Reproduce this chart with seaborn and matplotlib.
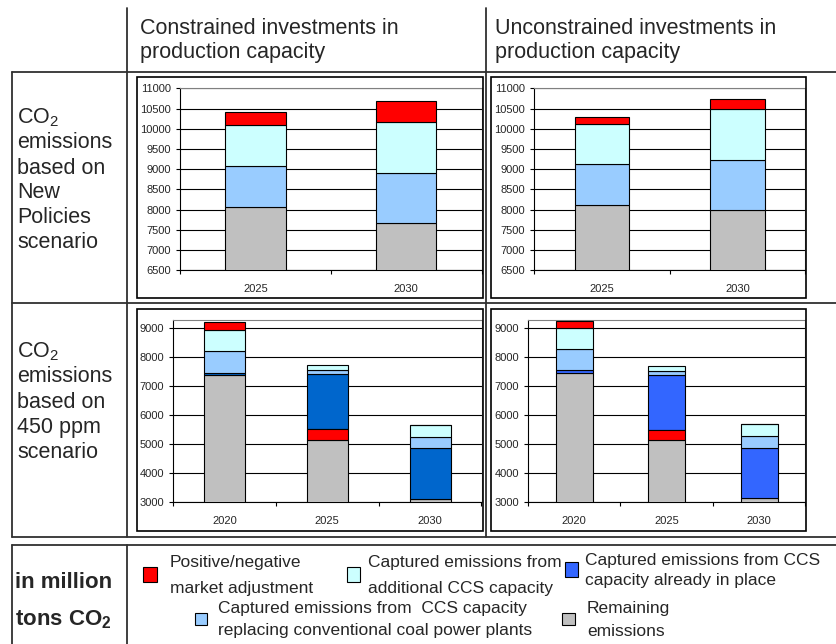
import numpy as np
import matplotlib.pyplot as plt
import seaborn as sns
from matplotlib.patches import Rectangle
from matplotlib.lines import Line2D

sns.set_style("white")
plt.rcParams['font.family'] = ['Liberation Sans', 'DejaVu Sans']
plt.rcParams['mathtext.default'] = 'regular'

W, H = 837, 644

years_np = ["2025", "2030"]
years_450 = ["2020", "2025", "2030"]

# New Policies scenario (million t CO2)
np_con_remaining = [8065, 7660]
np_con_replacing = [1010, 1240]
np_con_additional = [1015, 1260]
np_con_market = [315, 520]

np_unc_remaining = [8105, 7990]
np_unc_replacing = [1015, 1245]
np_unc_additional = [990, 1245]
np_unc_market = [175, 245]

# 450 ppm scenario
s450_con_remaining = [7380, 5150, 3100]
s450_con_in_place = [80, 1910, 1760]
s450_con_replacing = [760, 125, 380]
s450_con_additional = [735, 170, 415]
s450_con_market = [265, 370, 0]

s450_unc_remaining = [7450, 5150, 3150]
s450_unc_in_place = [100, 1895, 1735]
s450_unc_replacing = [725, 140, 400]
s450_unc_additional = [725, 175, 415]
s450_unc_market = [255, 335, 0]

# stacking order, bottom to top
order_np = [["remaining", "replacing", "additional", "market"]] * 2
order_450 = [["remaining", "in_place", "replacing", "additional", "market"],
             ["remaining", "market", "in_place", "replacing", "additional"],
             ["remaining", "in_place", "replacing", "additional", "market"]]

colors = {"market": "#FF0000", "additional": "#CCFFFF", "in_place": "#3366FF",
          "replacing": "#99CCFF", "remaining": "#C0C0C0"}

legend_keys = ["market", "additional", "in_place", "replacing", "remaining"]
legend_labels = ["Positive/negative\nmarket adjustment",
                 "Captured emissions from\nadditional CCS capacity",
                 "Captured emissions from CCS\ncapacity already in place",
                 "Captured emissions from  CCS capacity\nreplacing conventional coal power plants",
                 "Remaining\nemissions"]

header_labels = ["Constrained investments in\nproduction capacity",
                 "Unconstrained investments in\nproduction capacity"]
row1_lines = ["CO$_2$", "emissions", "based on", "New", "Policies", "scenario"]
row2_lines = ["CO$_2$", "emissions", "based on", "450 ppm", "scenario"]

fig = plt.figure(figsize=(W / 100, H / 100), dpi=100)


def fx(x):
    return x / W


def fy(y):
    return 1 - y / H


def add_axes(l, t, r, b):
    return fig.add_axes([fx(l), fy(b), (r - l) / W, (b - t) / H])


def hline(y, x0, x1, c='#303030', lw=1.3):
    fig.add_artist(Line2D([fx(x0), fx(x1)], [fy(y), fy(y)], color=c, lw=lw,
                          transform=fig.transFigure))


def vline(x, y0, y1, c='#303030', lw=1.3):
    fig.add_artist(Line2D([fx(x), fx(x)], [fy(y0), fy(y1)], color=c, lw=lw,
                          transform=fig.transFigure))


def frame(l, t, r, b):
    fig.add_artist(Rectangle((fx(l), fy(b)), (r - l) / W, (b - t) / H, fill=False,
                             ec='black', lw=1.2, transform=fig.transFigure))


def panel(ax, years, series, orders, dark, ylim, yticks):
    n = len(years)
    bottoms = {k: np.zeros(n) for k in series}
    for i in range(n):
        acc = 0
        for k in orders[i]:
            bottoms[k][i] = acc
            acc += series[k][i]
    for k, vals in series.items():
        c = dark if k == "in_place" else colors[k]
        sns.barplot(x=years, y=vals, bottom=bottoms[k], color=c, saturation=1,
                    width=0.4, errorbar=None, edgecolor='black', linewidth=0.8,
                    ax=ax, zorder=3)
    ax.set_ylim(*ylim)
    ax.set_xlim(-0.5, n - 0.5)
    ax.set_yticks(yticks)
    ax.set_yticklabels([str(t) for t in yticks])
    ax.set_xticks(np.arange(n + 1) - 0.5, labels=[''] * (n + 1))
    ax.set_xticks(np.arange(n), labels=years, minor=True)
    ax.tick_params(axis='x', which='major', direction='out', length=3, width=0.8,
                   bottom=True, color='black')
    ax.tick_params(axis='x', which='minor', length=0, pad=10, labelsize=8)
    ax.tick_params(axis='y', direction='out', length=3, width=0.8, pad=3.5,
                   labelsize=8, left=True, color='black')
    ax.yaxis.grid(True, color='black', lw=0.8)
    ax.xaxis.grid(False)
    ax.set_axisbelow(True)
    ax.set_xlabel('')
    ax.set_ylabel('')
    for s in ['left', 'bottom']:
        ax.spines[s].set_color('black')
        ax.spines[s].set_linewidth(0.8)
    for s in ['top', 'right']:
        ax.spines[s].set_color('#808080')
        ax.spines[s].set_linewidth(0.8)


np_ticks = list(range(6500, 11001, 500))
t450_ticks = list(range(3000, 9001, 1000))

ax1 = add_axes(180, 88.3, 481.5, 270.3)
panel(ax1, years_np, {"remaining": np_con_remaining, "replacing": np_con_replacing,
                      "additional": np_con_additional, "market": np_con_market},
      order_np, "#0066CC", (6500, 11000), np_ticks)

ax2 = add_axes(534, 88.3, 805.5, 270.3)
panel(ax2, years_np, {"remaining": np_unc_remaining, "replacing": np_unc_replacing,
                      "additional": np_unc_additional, "market": np_unc_market},
      order_np, "#3366FF", (6500, 11000), np_ticks)

ax3 = add_axes(173, 320, 481.5, 502.3)
panel(ax3, years_450, {"remaining": s450_con_remaining, "in_place": s450_con_in_place,
                       "replacing": s450_con_replacing, "additional": s450_con_additional,
                       "market": s450_con_market},
      order_450, "#0066CC", (3000, 9287), t450_ticks)

ax4 = add_axes(528, 320, 805.5, 502.3)
panel(ax4, years_450, {"remaining": s450_unc_remaining, "in_place": s450_unc_in_place,
                       "replacing": s450_unc_replacing, "additional": s450_unc_additional,
                       "market": s450_unc_market},
      order_450, "#3366FF", (3000, 9287), t450_ticks)

# chart frames
frame(137, 77, 483, 298)
frame(491, 77, 806.5, 298)
frame(137, 309, 483, 531)
frame(491, 309, 806.5, 531)

# table lines
vline(127.5, 8, 537)
vline(486.5, 8, 537)
vline(12, 72, 537)
hline(72, 12, W)
hline(303, 12, W)
hline(537, 12, W)
hline(545, 12, W)
vline(12, 545, H)
vline(127.5, 545, H)

# header texts
fig.text(fx(140), fy(18), header_labels[0], ha='left', va='top', fontsize=15.5,
         linespacing=1.2)
fig.text(fx(495), fy(18), header_labels[1], ha='left', va='top', fontsize=15.5,
         linespacing=1.2)

# row labels
for i, s in enumerate(row1_lines):
    fig.text(fx(17), fy(118 + i * 25), s, ha='left', va='center', fontsize=15.5)
for i, s in enumerate(row2_lines):
    fig.text(fx(17), fy(352 + i * 25), s, ha='left', va='center', fontsize=15.5)

# legend
fig.text(fx(15), fy(583), "in million", ha='left', va='center', fontsize=16,
         fontweight='bold')
fig.text(fx(15), fy(620), "tons CO$_2$", ha='left', va='center', fontsize=16,
         fontweight='bold')

marker_boxes = [(143, 567, 14, 15), (347, 567, 13, 15), (565, 562, 13, 15),
                (195, 613, 12, 12), (562, 613, 13, 12)]
text_pos = [(170, 563, 588), (368, 563, 588), (585, 560, 581),
            (218, 609, 631), (587, 609, 631)]
for key, lab, (l, t, w, h), (x, y1, y2) in zip(legend_keys, legend_labels,
                                                marker_boxes, text_pos):
    fig.add_artist(Rectangle((fx(l), fy(t + h)), w / W, h / H, fc=colors[key],
                             ec='black', lw=0.8, transform=fig.transFigure))
    l1, l2 = lab.split("\n")
    fig.text(fx(x), fy(y1), l1, ha='left', va='center', fontsize=12.5)
    fig.text(fx(x), fy(y2), l2, ha='left', va='center', fontsize=12.5)

fig.savefig("out.png", dpi=100)
